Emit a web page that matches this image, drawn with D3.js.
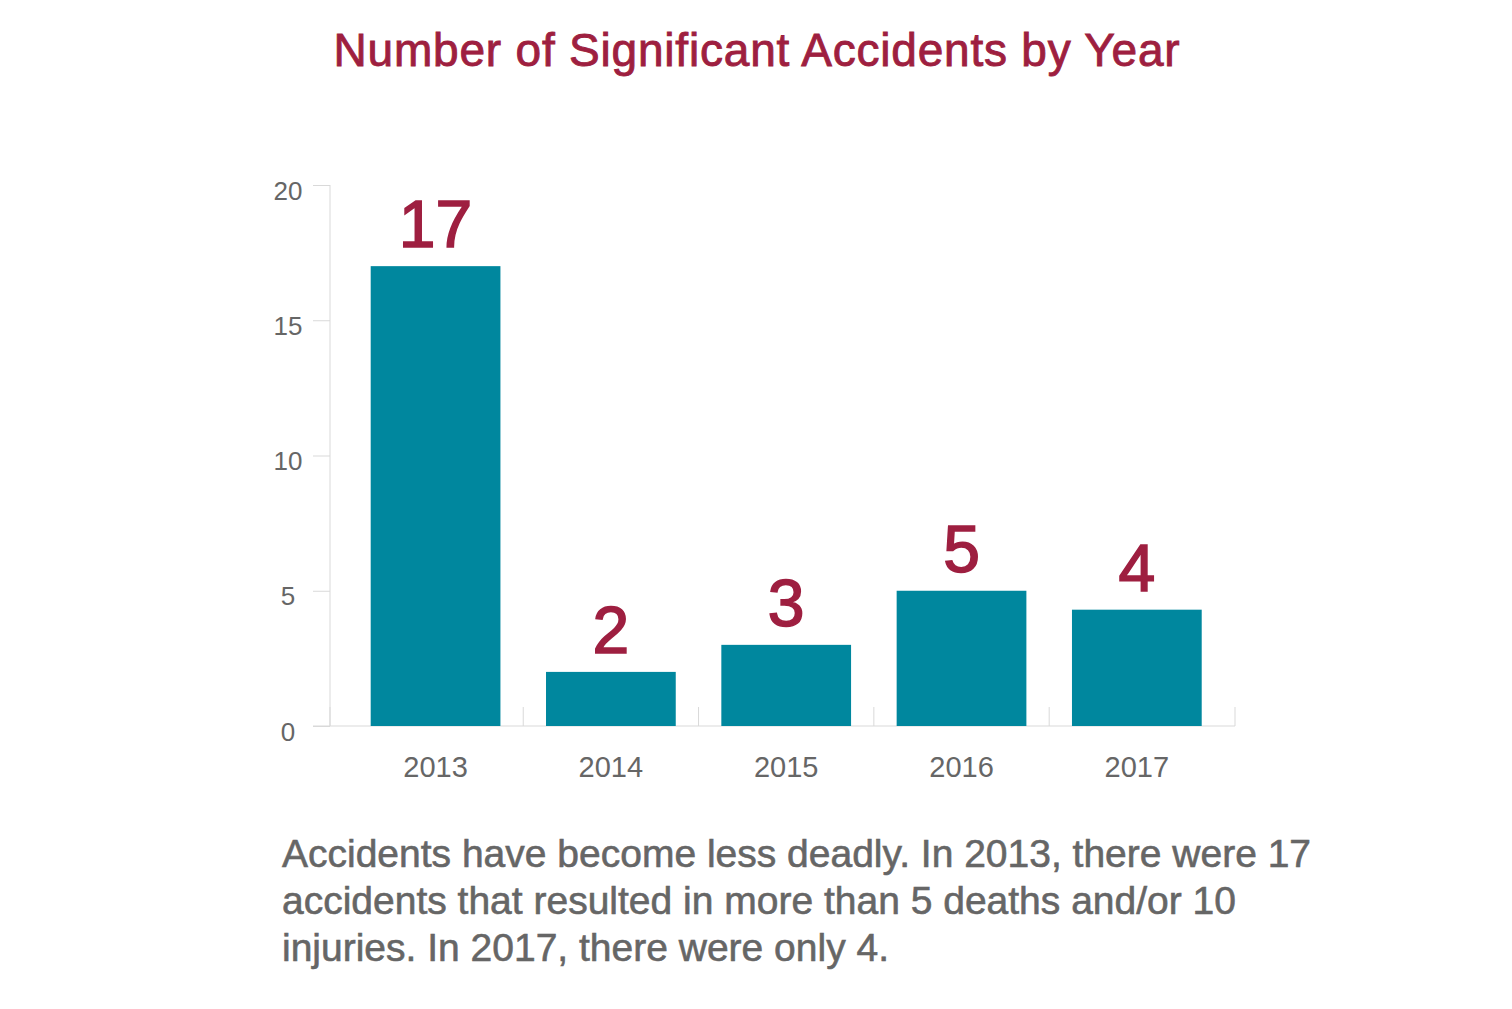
<!DOCTYPE html>
<html><head><meta charset="utf-8">
<script src="https://cdn.jsdelivr.net/npm/d3@7"></script>
<style>
html,body{margin:0;padding:0;background:#fff;}
svg{display:block;}
text{font-family:"Liberation Sans",Arial,Helvetica,sans-serif;}
</style></head>
<body>
<svg id="c" width="1512" height="1009"></svg>
<script>
const years = ["2013","2014","2015","2016","2017"];
const barValues = [17, 2, 3, 5, 4.3];
const valueLabels = ["17","2","3","5","4"];
const yTicks = [0,5,10,15,20];
const title = "Number of Significant Accidents by Year";
const captionLines = [
  "Accidents have become less deadly. In 2013, there were 17",
  "accidents that resulted in more than 5 deaths and/or 10",
  "injuries. In 2017, there were only 4."
];

(function(){
const svg = d3.select("#c");
const RED = "#9e1f40", TEAL = "#00879e", GRAY = "#666666", LINE = "#d9d9d9";
const pl = 330, pr = 1235, pt = 185, pb = 726;

const x = d3.scaleBand().domain(years).range([pl, pr])
  .paddingInner(0.26).paddingOuter(0.211).align(0.55);
const y = d3.scaleLinear().domain([0,20]).range([pb, pt]);

// title
svg.append("text").attr("x", 757).attr("y", 66).attr("text-anchor","middle")
  .attr("fill", RED).attr("stroke", RED).attr("stroke-width", 0.9)
  .attr("font-size", 46).attr("letter-spacing", 0.8)
  .text(title);

// y axis
const ya = svg.append("g").attr("transform", `translate(${pl},0)`)
  .call(d3.axisLeft(y).tickValues(yTicks).tickSize(17).tickFormat(d3.format("d")));
ya.select(".domain").attr("stroke", LINE).attr("d", `M0,${pt}V${pb}`);
ya.selectAll(".tick line").attr("stroke", LINE);
ya.selectAll(".tick text").attr("fill", GRAY).attr("font-size", 26)
  .attr("text-anchor","middle").attr("x", -42).attr("dy", "0.54em")
  .style("font-family", '"Liberation Sans",Arial,sans-serif');

// baseline
svg.append("line").attr("x1", pl-17).attr("x2", pr).attr("y1", y(0)).attr("y2", y(0))
  .attr("stroke", LINE).attr("stroke-width", 1.2);

// x separators
const step = x.step(), gap = step * x.paddingInner();
const sepX = [pl].concat(years.slice(0,-1).map(d => x(d) + x.bandwidth() + gap/2)).concat([pr]);
svg.append("g").selectAll("line").data(sepX).join("line")
  .attr("x1", d=>d).attr("x2", d=>d).attr("y1", y(0)-19).attr("y2", y(0))
  .attr("stroke", LINE);

// bars
svg.append("g").selectAll("rect").data(years).join("rect")
  .attr("x", d => x(d)).attr("width", x.bandwidth())
  .attr("y", (d,i) => y(barValues[i])).attr("height", (d,i) => y(0) - y(barValues[i]))
  .attr("fill", TEAL);

// value labels
svg.append("g").selectAll("text").data(years).join("text")
  .attr("x", d => x(d) + x.bandwidth()/2)
  .attr("y", (d,i) => y(barValues[i]) - 19)
  .attr("text-anchor","middle").attr("fill", RED).attr("stroke", RED).attr("stroke-width", 1.6)
  .attr("font-size", 66)
  .text((d,i) => valueLabels[i]);

// x labels
svg.append("g").selectAll("text").data(years).join("text")
  .attr("x", d => x(d) + x.bandwidth()/2).attr("y", 777)
  .attr("text-anchor","middle").attr("fill", GRAY).attr("font-size", 29)
  .text(d => d);

// caption
svg.append("g").selectAll("text").data(captionLines).join("text")
  .attr("x", 282).attr("y", (d,i) => 867 + i*47)
  .attr("fill", GRAY).attr("stroke", GRAY).attr("stroke-width", 0.6).attr("font-size", 39)
  .text(d => d);
})();
</script>
</body></html>
